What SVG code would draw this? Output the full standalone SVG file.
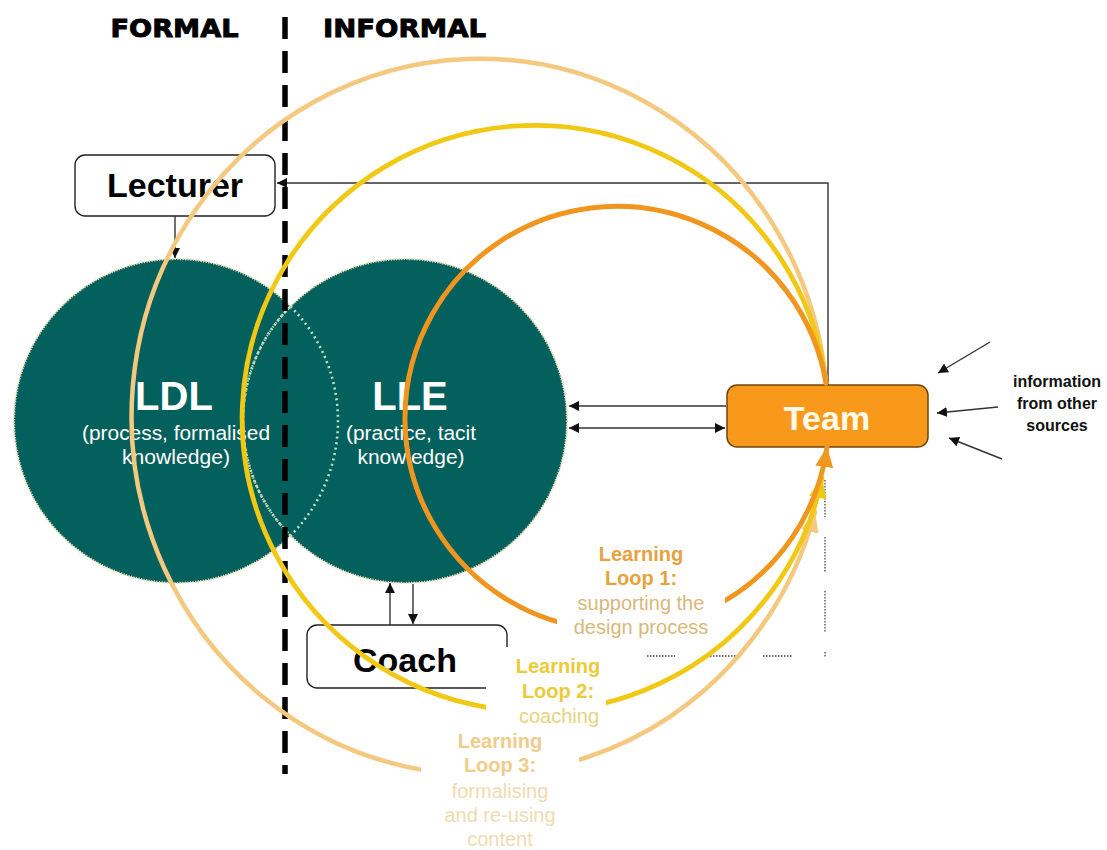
<svg xmlns="http://www.w3.org/2000/svg" width="1107" height="850" viewBox="0 0 1107 850">
<defs>
<style>
.hdr{font-family:"DejaVu Sans","Liberation Sans",sans-serif;font-weight:bold;font-size:25px;fill:#000;stroke:#000;stroke-width:0.9;text-anchor:middle}
.box{fill:#fff;stroke:#222;stroke-width:1.4}
.boxtxt{font-family:"Liberation Sans",Arial,sans-serif;font-weight:bold;font-size:34px;fill:#000;text-anchor:middle}
.circ{fill:#04605c;stroke:#e6dcae;stroke-width:2.2;stroke-dasharray:1.2 1.4}
.big{font-family:"Liberation Sans",Arial,sans-serif;font-weight:bold;font-size:40px;fill:#fff;text-anchor:middle}
.sub{font-family:"Liberation Sans",Arial,sans-serif;font-size:20px;fill:#fff;text-anchor:middle}
.conn{fill:none;stroke:#333;stroke-width:1.4}
.info{font-family:"Liberation Sans",Arial,sans-serif;font-weight:bold;font-size:16px;fill:#111;text-anchor:middle}
.loop{fill:none;stroke-linecap:round}
.lb{font-family:"Liberation Sans",Arial,sans-serif;font-weight:bold;font-size:20px;text-anchor:middle}
.lr{font-family:"Liberation Sans",Arial,sans-serif;font-size:20px;text-anchor:middle}
.dots{fill:none;stroke:#444;stroke-width:1.3;stroke-dasharray:1.5 1.5}
</style>
<marker id="ah" markerUnits="userSpaceOnUse" markerWidth="11" markerHeight="10" refX="10" refY="5" orient="auto-start-reverse" viewBox="0 0 11 10">
<path d="M0,0 L10,5 L0,10 z" fill="#111"/>
</marker>
<marker id="ah1" markerUnits="userSpaceOnUse" markerWidth="22" markerHeight="20" refX="20" refY="10" orient="auto" viewBox="0 0 22 20">
<path d="M0,1 L20,10 L0,19 z" fill="#f0961e"/>
</marker>
<marker id="ah2" markerUnits="userSpaceOnUse" markerWidth="22" markerHeight="20" refX="20" refY="10" orient="auto" viewBox="0 0 22 20">
<path d="M0,1 L20,10 L0,19 z" fill="#f1c814"/>
</marker>
<marker id="ah3" markerUnits="userSpaceOnUse" markerWidth="22" markerHeight="20" refX="20" refY="10" orient="auto" viewBox="0 0 22 20">
<path d="M0,1 L20,10 L0,19 z" fill="#f4c87e"/>
</marker>
</defs>
<rect width="1107" height="850" fill="#fff"/>

<g id="headers">
<text class="hdr" x="174.5" y="37" textLength="128" lengthAdjust="spacingAndGlyphs">FORMAL</text>
<text class="hdr" x="404.5" y="37" textLength="163" lengthAdjust="spacingAndGlyphs">INFORMAL</text>
</g>

<g id="ldl">
<circle class="circ" cx="176" cy="421" r="162"/>
</g>
<g id="lle">
<circle class="circ" cx="405" cy="421" r="162"/>
</g>
<path id="lens" d="M290.5,306.4 A162,162 0 0 1 290.5,535.6 A162,162 0 0 1 290.5,306.4 Z" fill="none" stroke="#b9e2c6" stroke-width="2.6" stroke-dasharray="2 3.5"/>
<g id="ldl-text">
<text class="big" x="174" y="410">LDL</text>
<text class="sub" x="176" y="440" textLength="188" lengthAdjust="spacingAndGlyphs">(process, formalised</text>
<text class="sub" x="176" y="464" textLength="108" lengthAdjust="spacingAndGlyphs">knowledge)</text>
</g>
<g id="lle-text">
<text class="big" x="410" y="410">LLE</text>
<text class="sub" x="411" y="440" textLength="130" lengthAdjust="spacingAndGlyphs">(practice, tacit</text>
<text class="sub" x="411" y="464" textLength="107" lengthAdjust="spacingAndGlyphs">knowledge)</text>
</g>

<line id="divider" x1="285" y1="17" x2="285" y2="774" stroke="#000" stroke-width="5.5" stroke-dasharray="22 12"/>

<g id="lecturer">
<rect class="box" x="75" y="155" width="200" height="61" rx="10"/>
<text class="boxtxt" x="175" y="197">Lecturer</text>
</g>
<g id="coach">
<rect class="box" x="307" y="625" width="200" height="63" rx="10"/>
<text class="boxtxt" x="405" y="672">Coach</text>
</g>
<g id="team">
<rect x="727" y="385" width="201" height="62" rx="10" fill="#f8991c" stroke="#6e4512" stroke-width="1.5"/>
<text class="boxtxt" x="827" y="430" style="fill:#fffaea">Team</text>
</g>
<g id="info">
<text class="info" x="1057" y="387">information</text>
<text class="info" x="1057" y="409">from other</text>
<text class="info" x="1057" y="431">sources</text>
</g>

<g id="connectors">
<line class="conn" x1="175" y1="216" x2="175" y2="258" marker-end="url(#ah)"/>
<polyline class="conn" points="828,385 828,183 277,183" marker-end="url(#ah)"/>
<line class="conn" x1="726" y1="406" x2="569" y2="406" marker-end="url(#ah)"/>
<line class="conn" x1="569" y1="428" x2="725" y2="428" marker-start="url(#ah)" marker-end="url(#ah)"/>
<line class="conn" x1="390" y1="625" x2="390" y2="583" marker-end="url(#ah)"/>
<line class="conn" x1="413" y1="584" x2="413" y2="624" marker-end="url(#ah)"/>
<line class="conn" x1="990" y1="342" x2="938" y2="373" marker-end="url(#ah)"/>
<line class="conn" x1="998" y1="407" x2="937" y2="413" marker-end="url(#ah)"/>
<line class="conn" x1="1002" y1="459" x2="949" y2="438" marker-end="url(#ah)"/>
<g class="dots">
<line x1="825" y1="480" x2="825" y2="517"/>
<line x1="825" y1="537" x2="825" y2="573"/>
<line x1="825" y1="591" x2="825" y2="633"/>
<line x1="825" y1="652" x2="825" y2="658"/>
<line x1="647" y1="656" x2="675" y2="656"/>
<line x1="710" y1="656" x2="737" y2="656"/>
<line x1="763" y1="656" x2="793" y2="656"/>
</g>
<path id="loop3" class="loop" d="M826,383 A348,358 0 1 0 815,512" stroke="#f4c87e" stroke-width="4.5" marker-end="url(#ah3)"/>
<path id="loop2" class="loop" d="M826,383 A293,293 0 1 0 822,478" stroke="#f1c814" stroke-width="4.8" marker-end="url(#ah2)"/>
<path id="loop1" class="loop" d="M826,383 A212,212 0 1 0 827,447" stroke="#f0961e" stroke-width="5" marker-end="url(#ah1)"/>
</g>

<g id="label1">
<rect x="557" y="537" width="168" height="101" fill="#fff"/>
<text class="lb" x="641" y="561" fill="#e7a23c">Learning</text>
<text class="lb" x="641" y="585" fill="#e7a23c">Loop 1:</text>
<text class="lr" x="641" y="610" fill="#d9b87c">supporting the</text>
<text class="lr" x="641" y="634" fill="#d9b87c">design process</text>
</g>
<g id="label2">
<rect x="486" y="647" width="120" height="80" fill="#fff"/>
<text class="lb" x="558" y="673" fill="#ebcb38">Learning</text>
<text class="lb" x="558" y="698" fill="#ebcb38">Loop 2:</text>
<text class="lr" x="559" y="723" fill="#e6d47e">coaching</text>
</g>
<g id="label3">
<rect x="421" y="727" width="158" height="123" fill="#fff"/>
<text class="lb" x="500" y="748" fill="#f0cc8c">Learning</text>
<text class="lb" x="500" y="772" fill="#f0cc8c">Loop 3:</text>
<text class="lr" x="500" y="798" fill="#eedcb0">formalising</text>
<text class="lr" x="500" y="822" fill="#eedcb0">and re-using</text>
<text class="lr" x="500" y="846" fill="#eedcb0">content</text>
</g>
</svg>
